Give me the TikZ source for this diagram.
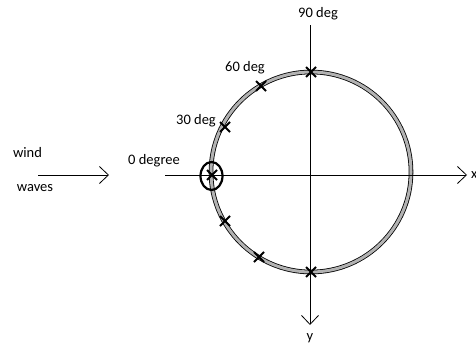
\documentclass[tikz,border=0pt]{standalone}
\usepackage{fontspec}
\setmainfont{Carlito}
\usetikzlibrary{arrows.meta,shapes.misc}
\begin{document}
\begin{tikzpicture}[x=1pt,y=-1pt,
  lbl/.style={font=\fontsize{14.5}{16}\selectfont, inner sep=0pt, text=black},
  axis/.style={line width=0.8pt, -{Straight Barb[length=9pt,width=17pt,line width=0.8pt]}},
  ring/.style={line width=0.8pt, double=black!30, double distance=3pt},
  xmark/.style={cross out, draw, line width=2pt, minimum size=8pt, inner sep=0pt}
]
\useasboundingbox (0,0) rectangle (476,348);
\fill[white] (0,0) rectangle (476,348);
% circle
\coordinate (c) at (311,172);
\draw[ring] (c) circle (100);
% axes
\coordinate (hs) at (165,175);
\coordinate (he) at (467,175);
\coordinate (vs) at (310,25);
\coordinate (ve) at (310,325);
\draw[axis] (hs) -- (he);
\draw[axis] (vs) -- (ve);
% wind arrow
\coordinate (ws) at (38,175);
\coordinate (we) at (109,175);
\draw[axis] (ws) -- (we);
% crosses
\node[xmark] (m90) at (311,72) {};
\node[xmark] (m60) at (261,86) {};
\node[xmark] (m30) at (225,127) {};
\node[xmark] (m0) at (212,175) {};
\node[xmark] (mm30) at (225,221) {};
\node[xmark] (mm60) at (259,257) {};
\node[xmark] (mm90) at (311,272) {};
\draw[line width=2.2pt] (211.5,176) ellipse (11 and 14);
% labels
\node[lbl] (tw) at (27.5,153) {wind};
\node[lbl] (twv) at (35,188) {waves};
\node[lbl] (t0) at (154,161) {0 degree};
\node[lbl] (t30) at (196,121) {30 deg};
\node[lbl] (t60) at (245,68) {60 deg};
\node[lbl] (t90) at (318,14) {90 deg};
\node[lbl] (ty) at (310,338) {y};
\node[lbl, anchor=west] (tx) at (471,175) {x};
\end{tikzpicture}
\end{document}
